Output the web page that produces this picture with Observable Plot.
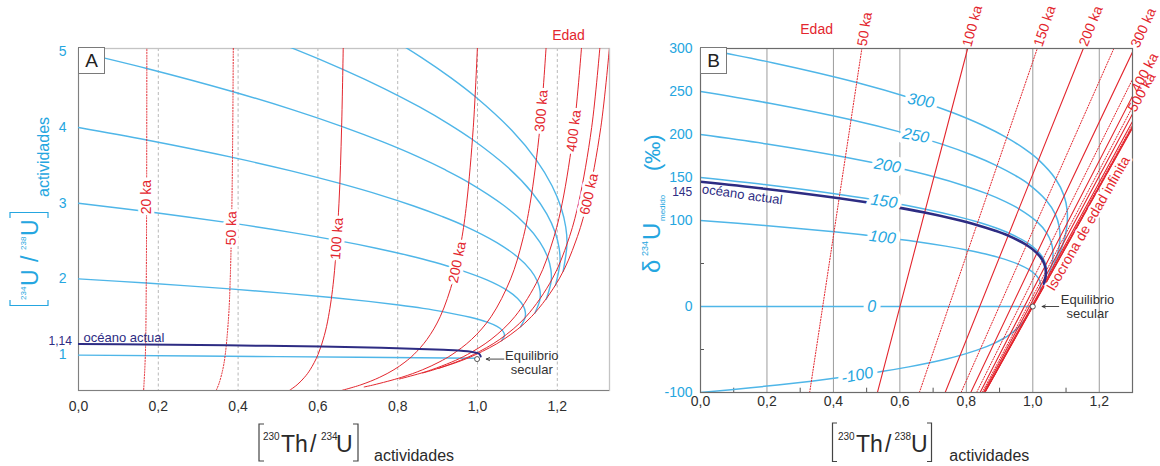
<!DOCTYPE html>
<html><head><meta charset="utf-8">
<script src="https://cdn.jsdelivr.net/npm/d3@7"></script>
<script src="https://cdn.jsdelivr.net/npm/@observablehq/plot@0.6"></script>
<style>
html,body{margin:0;padding:0;background:#fff;}
#root{position:relative;width:1160px;height:466px;overflow:hidden;font-family:"Liberation Sans",Arial,sans-serif;}
#panelA{position:absolute;left:0;top:0;width:640px;height:466px;}
#panelB{position:absolute;left:640px;top:0;width:520px;height:466px;}
#panelA svg,#panelB svg{background:transparent;max-width:none;}
.box{position:absolute;width:25px;height:25px;border:1px solid #7a7a7a;background:#fff;font-size:19px;line-height:25px;text-align:center;color:#222;}
#overlay{position:absolute;left:0;top:0;pointer-events:none;}
</style></head>
<body><div id="root">
<div id="panelA"></div><div id="panelB"></div>
<div class="box" style="left:78px;top:47px">A</div>
<div class="box" style="left:700px;top:47px">B</div>
<svg id="overlay" width="1160" height="466" font-family="Liberation Sans, Arial, sans-serif">
  <!-- Panel A y title -->
  <g fill="none" stroke="#25a6e0" stroke-width="1.2">
    <path d="M10,300 V305.5 H48 V300"/>
    <path d="M10,218 V212.5 H48 V218"/>
  </g>
  <g transform="translate(38.3,0) rotate(-90)" fill="#25a6e0">
    <text font-size="23"><tspan x="-300" y="-12" font-size="8">234</tspan><tspan x="-286" y="0">U</tspan><tspan x="-262" y="0">/</tspan><tspan x="-250" y="-12" font-size="8">238</tspan><tspan x="-236" y="0">U</tspan></text>
    <text x="-197" y="10.5" font-size="16">actividades</text>
  </g>
  <!-- Panel B y title -->
  <g transform="translate(660,0) rotate(-90)" fill="#25a6e0">
    <text font-size="24"><tspan x="-273" y="0">δ</tspan><tspan x="-256" y="-12" font-size="9">234</tspan><tspan x="-240" y="0">U</tspan><tspan x="-221" y="5" font-size="8">medido</tspan><tspan x="-171" y="0" font-size="22">(‰)</tspan></text>
  </g>
  <!-- x titles -->
  <g fill="none" stroke="#444" stroke-width="1.2">
    <path d="M264,424 H259 V461 H264"/>
    <path d="M353,424 H358 V461 H353"/>
    <path d="M837,423 H832.5 V461.5 H837"/>
    <path d="M927,423 H931.5 V461.5 H927"/>
  </g>
  <g fill="#2a2a2a">
    <text font-size="23"><tspan x="263" y="440" font-size="10">230</tspan><tspan x="281" y="452">Th</tspan><tspan x="310" y="452">/</tspan><tspan x="321" y="440" font-size="10">234</tspan><tspan x="336" y="452">U</tspan></text>
    <text x="374" y="460.5" font-size="16">actividades</text>
    <text font-size="23"><tspan x="838" y="440" font-size="10">230</tspan><tspan x="856" y="452">Th</tspan><tspan x="885" y="452">/</tspan><tspan x="894.5" y="440" font-size="10">238</tspan><tspan x="911" y="452">U</tspan></text>
    <text x="949.3" y="460.5" font-size="16">actividades</text>
  </g>
</svg>
</div>
<script>
// ---------------- Panel A data: [230Th/234U, 234U/238U] ----------------
const xTicks = [0, 0.2, 0.4, 0.6, 0.8, 1.0, 1.2];
const yTicksA = [1, 2, 3, 4, 5];
const gridA = [0.2, 0.4, 0.6, 0.8, 1.0, 1.2];

// evolution curves for initial 234U/238U (blue)
const curveA7 = [[0,7],[0.1716,6.670],[0.3889,6.209],[0.5388,5.854],[0.6648,5.523],[0.7705,5.214],[0.8590,4.927],[0.9327,4.659],[0.9940,4.409],[1.0863,3.960],[1.1477,3.570],[1.1867,3.231],[1.2098,2.937],[1.2212,2.682],[1.2243,2.460],[1.2147,2.101]];
const curveA6 = [[0,6],[0.1714,5.725],[0.3882,5.341],[0.5374,5.045],[0.6625,4.769],[0.7672,4.512],[0.8546,4.272],[0.9272,4.049],[0.9873,3.841],[1.0773,3.467],[1.1365,3.142],[1.1735,2.859],[1.1948,2.614],[1.2047,2.402],[1.2067,2.217],[1.1956,1.917]];
const curveA5 = [[0,5],[0.1713,4.780],[0.3873,4.473],[0.5355,4.236],[0.6594,4.015],[0.7628,3.809],[0.8487,3.618],[0.9198,3.439],[0.9783,3.273],[1.0653,2.973],[1.1217,2.713],[1.1563,2.487],[1.1755,2.291],[1.1839,2.121],[1.1847,1.974],[1.1726,1.734]];
const curveA4 = [[0,4],[0.1710,3.835],[0.3859,3.605],[0.5327,3.427],[0.6549,3.261],[0.7563,3.107],[0.8401,2.963],[0.9091,2.829],[0.9656,2.705],[1.0485,2.480],[1.1014,2.285],[1.1331,2.116],[1.1500,1.969],[1.1567,1.841],[1.1565,1.730],[1.1441,1.550]];
const curveA3 = [[0,3],[0.1706,2.890],[0.3837,2.736],[0.5282,2.618],[0.6476,2.508],[0.7460,2.405],[0.8267,2.309],[0.8926,2.220],[0.9460,2.136],[1.0234,1.987],[1.0717,1.857],[1.0999,1.744],[1.1145,1.646],[1.1198,1.561],[1.1192,1.487],[1.1080,1.367]];
const curveA2 = [[0,2],[0.1698,1.945],[0.3795,1.868],[0.5197,1.809],[0.6341,1.754],[0.7273,1.702],[0.8027,1.654],[0.8635,1.610],[0.9123,1.568],[0.9818,1.493],[1.0243,1.428],[1.0488,1.372],[1.0615,1.323],[1.0667,1.280],[1.0671,1.243],[1.0606,1.183]];
const curveA1 = [[0,0.993],[0.5,0.972],[1.0,0.951]];
const oceanA = [[0,1.14],[0.168,1.132],[0.370,1.122],[0.608,1.106],[0.759,1.090],[0.855,1.075],[0.915,1.062],[0.953,1.052],[0.990,1.030],[1.004,1.010],[1.008,0.975]];

// isochrons (red)
const isoA20 = [[0.1629,0.5],[0.1676,1],[0.1699,2],[0.1707,3],[0.1713,5.1]];
const isoA50 = [[0.3426,0.5],[0.3510,0.6],[0.3615,0.8],[0.3678,1],[0.3762,1.5],[0.3803,2],[0.3845,3],[0.3866,4],[0.3880,5.1]];
const isoA100 = [[0.5215,0.5],[0.5478,0.6],[0.5665,0.7],[0.5806,0.8],[0.6003,1],[0.6160,1.25],[0.6265,1.5],[0.6397,2],[0.6528,3],[0.6594,4],[0.6636,5.1]];
const isoA200 = [[0.6414,0.5],[0.7077,0.6],[0.7550,0.7],[0.7906,0.8],[0.8182,0.9],[0.8403,1],[0.8734,1.2],[0.9065,1.5],[0.9397,2],[0.9595,2.5],[0.9728,3],[0.9894,4],[1.0001,5.1]];
const isoA300 = [[0.7160,0.5717],[0.7403,0.6],[0.8102,0.7],[0.8627,0.8],[0.9035,0.9],[0.9362,1],[0.9851,1.2],[1.0341,1.5],[1.0831,2],[1.1124,2.5],[1.1320,3],[1.1565,4],[1.1724,5.1]];
const isoA400 = [[0.8044,0.6771],[0.8556,0.75],[0.8853,0.8],[0.9348,0.9],[0.9745,1],[1.0339,1.2],[1.0934,1.5],[1.1528,2],[1.1885,2.5],[1.2123,3],[1.2420,4],[1.2613,5.1]];
const isoA500 = [[0.8627,0.7566],[0.8910,0.8],[0.9459,0.9],[0.9898,1],[1.0557,1.2],[1.1215,1.5],[1.1874,2],[1.2269,2.5],[1.2532,3],[1.2861,4],[1.3074,5.1]];
const isoA600 = [[0.9021,0.8165],[0.9495,0.9],[0.9959,1],[1.0655,1.2],[1.1351,1.5],[1.2047,2],[1.2464,2.5],[1.2742,3],[1.3090,4],[1.3315,5.1]];

const isoLabelsA = [
  {t:"20 ka", x:0.1705, y:3.08, r:-90},
  {t:"50 ka", x:0.3835, y:2.67, r:-88},
  {t:"100 ka", x:0.6479, y:2.53, r:-86},
  {t:"200 ka", x:0.9495, y:2.22, r:-78},
  {t:"300 ka", x:1.1603, y:4.22, r:-85},
  {t:"400 ka", x:1.2414, y:3.957, r:-83},
  {t:"600 ka", x:1.2796, y:3.12, r:-77}
];
const edadA = [{t:"Edad", x:1.228, y:5.216}];
const oceanLabelA = [{t:"océano actual", x:0.0125, y:1.224}];
const oceanTickA = [{t:"1,14", x:-0.0165, y:1.18}];
const equilA = [{t:"Equilibrio", x:1.136, y:0.978},{t:"secular", x:1.136, y:0.793}];
const equilPointA = [[0.999, 0.94]];
const equilArrowA = [{x1:1.066, y1:0.94, x2:1.022, y2:0.94}];

// ---------------- Panel B data: [230Th/238U, delta234U measured] ----------------
const yTicksB = [-100, 0, 100, 150, 200, 250, 300];
const gridB = [0.2, 0.4, 0.6, 0.8, 1.0, 1.2];
const minorXB = [0.1, 0.3, 0.5, 0.7, 0.9, 1.1];
const minorYB = [50, -50];

const curveB300 = [[0,300],[0.2164,283.5],[0.4701,260.5],[0.6302,242.7],[0.7539,226.1],[0.8490,210.7],[0.9216,196.3],[0.9764,182.9],[1.0174,170.5],[1.0691,148.0],[1.0942,128.5],[1.1034,111.6],[1.1034,96.9],[1.0984,84.1],[1.0909,73.0],[1.0737,55.0]];
const curveB250 = [[0,250],[0.2083,236.3],[0.4531,217.1],[0.6080,202.2],[0.7283,188.5],[0.8212,175.6],[0.8925,163.6],[0.9468,152.4],[0.9879,142.1],[1.0408,123.3],[1.0679,107.1],[1.0794,93.0],[1.0819,80.7],[1.0793,70.1],[1.0741,60.8],[1.0608,45.9]];
const curveB200 = [[0,200],[0.2001,189.0],[0.4360,173.6],[0.5859,161.8],[0.7027,150.8],[0.7934,140.5],[0.8635,130.9],[0.9173,122.0],[0.9583,113.6],[1.0124,98.7],[1.0415,85.7],[1.0555,74.4],[1.0604,64.6],[1.0602,56.1],[1.0572,48.7],[1.0478,36.7]];
const curveB150 = [[0,150],[0.1920,141.8],[0.4189,130.2],[0.5637,121.4],[0.6771,113.1],[0.7656,105.4],[0.8344,98.2],[0.8877,91.5],[0.9288,85.2],[0.9841,74.0],[1.0152,64.3],[1.0315,55.8],[1.0390,48.4],[1.0411,42.1],[1.0404,36.5],[1.0348,27.5]];
const oceanB = [[0,145],[0.1912,137.0],[0.4172,125.9],[0.5615,117.3],[0.6745,109.3],[0.7628,101.8],[0.8315,94.9],[0.8848,88.4],[0.9259,82.4],[0.9812,71.5],[1.0125,62.1],[1.0291,53.9],[1.0368,46.8],[1.0392,40.6],[1.0387,35.3],[1.0335,26.6]];
const curveB100 = [[0,100],[0.1839,94.5],[0.4019,86.8],[0.5416,80.9],[0.6515,75.4],[0.7378,70.2],[0.8054,65.4],[0.8582,61.0],[0.8993,56.8],[0.9557,49.3],[0.9888,42.8],[1.0075,37.2],[1.0175,32.3],[1.0221,28.0],[1.0235,24.3],[1.0219,18.3]];
const curveB0 = [[0,0],[1.0,0]];
const curveBm100 = [[0,-100],[0.1513,-94.5],[0.3337,-86.8],[0.4530,-80.9],[0.5491,-75.4],[0.6266,-70.2],[0.6893,-65.4],[0.7400,-61.0],[0.7812,-56.8],[0.8423,-49.3],[0.8835,-42.8],[0.9117,-37.2],[0.9315,-32.3],[0.9457,-28.0],[0.9561,-24.3],[0.9700,-18.3],[0.9786,-13.8],[0.9844,-10.4]];

// straight isochrons: x at delta = -100 and at delta = 300
const isoAgesB  = ["50","100","150","200","250","300","350","400","450","500","600","700","800","1000","inf"];
const isoXlowB  = [0.3285,0.5324,0.6586,0.7363,0.7841,0.8132,0.8308,0.8414,0.8476,0.8513,0.8546,0.8555,0.8557,0.8556,0.8555];
const isoXhighB = [0.4856,0.8040,1.0135,1.1520,1.2439,1.3051,1.3462,1.3738,1.3926,1.4053,1.4199,1.4269,1.4303,1.4328,1.4337];
const isoDottedB = [true,false,true,false,true,false,true,false,true,false,false,true,false,true,false];

const isoLabelsB = [
  {t:"50 ka", x:0.4945, y:322.5, r:-81},
  {t:"100 ka", x:0.8184, y:326, r:-75},
  {t:"150 ka", x:1.036, y:326, r:-71},
  {t:"200 ka", x:1.1747, y:326, r:-68},
  {t:"300 ka", x:1.3330, y:324, r:-65},
  {t:"400 ka", x:1.3370, y:272, r:-62},
  {t:"500 ka", x:1.3280, y:249, r:-61}
];
const curveLabelsB = [
  {t:"300", x:0.6627, y:239.3, r:10},
  {t:"250", x:0.6476, y:198.7, r:10},
  {t:"200", x:0.5623, y:163.8, r:9},
  {t:"150", x:0.5521, y:122.4, r:8},
  {t:"100", x:0.5473, y:80.6, r:7},
  {t:"0", x:0.515, y:0, r:0},
  {t:"-100", x:0.472, y:-80, r:-11}
];
const edadB = [{t:"Edad", x:0.3494, y:322.5}];
const infLabelB = [{t:"Isocrona de edad infinita", x:1.1672, y:96.5, r:-60}];
const oceanLabelB = [{t:"océano actual", x:0.1256, y:130, r:8}];
const oceanTickB = [{t:"145", x:-0.025, y:133.5}];
const equilB = [{t:"Equilibrio", x:1.1648, y:7.7},{t:"secular", x:1.1648, y:-8.6}];
const equilPointB = [[1.0, 0]];
const equilArrowB = [{x1:1.078, y1:0, x2:1.028, y2:0}];

// ---------------- styling ----------------
const BLUE = "#4fb6e8", BLUE_T = "#25a6e0", RED = "#e3262e", NAVY = "#2d2c83", INK = "#2e2e2e";
const FONT = "Liberation Sans, Arial, sans-serif";
const fmt = d => d.toFixed(1).replace(".", ",");
const line = (data, o) => Plot.line(data, {x: d => d[0], y: d => d[1], curve: "catmull-rom", clip: true, ...o});

const xDomA = [0, 1.3308], yDomA = [0.525, 5.044];
const plotA = Plot.plot({
  width: 640, height: 466,
  marginLeft: 78, marginRight: 31, marginTop: 48, marginBottom: 76,
  style: {fontFamily: FONT, fontSize: "14px", color: INK, background: "transparent"},
  x: {domain: xDomA, ticks: xTicks, tickFormat: fmt, tickSize: 0, tickPadding: 11, label: null},
  y: {domain: yDomA, ticks: yTicksA, tickFormat: d => String(d), tickSize: 0, tickPadding: 12, label: null},
  marks: [
    Plot.ruleX(gridA, {stroke: "#b8b8b8", strokeDasharray: "3,2.5"}),
    Plot.frame({stroke: "#c4c4c4", strokeWidth: 1.3}),
    Plot.ruleX([xDomA[0]], {stroke: "#808080"}),
    Plot.ruleY([yDomA[0]], {stroke: "#808080"}),
    ...[curveA7, curveA6, curveA5, curveA4, curveA3, curveA2, curveA1].map(c => line(c, {stroke: BLUE, strokeWidth: 1.4})),
    ...[isoA20, isoA50].map(c => line(c, {stroke: RED, strokeWidth: 1, strokeDasharray: "1.2,1.6"})),
    ...[isoA100, isoA200, isoA300, isoA400, isoA500, isoA600].map(c => line(c, {stroke: RED, strokeWidth: 1})),
    line(oceanA, {stroke: NAVY, strokeWidth: 2}),
    Plot.text(isoLabelsA, {x: "x", y: "y", text: "t", rotate: "r", fill: RED, stroke: "white", strokeWidth: 6, fontSize: 14, fontFamily: FONT}),
    Plot.text(edadA, {x: "x", y: "y", text: "t", fill: RED, fontSize: 14, fontFamily: FONT}),
    Plot.text(oceanLabelA, {x: "x", y: "y", text: "t", fill: NAVY, fontSize: 13, textAnchor: "start", fontFamily: FONT}),
    Plot.text(oceanTickA, {x: "x", y: "y", text: "t", fill: NAVY, fontSize: 12, textAnchor: "end", fontFamily: FONT}),
    Plot.arrow(equilArrowA, {x1: "x1", y1: "y1", x2: "x2", y2: "y2", stroke: "#333", strokeWidth: 0.9, headLength: 6, headAngle: 50}),
    Plot.dot(equilPointA, {x: d => d[0], y: d => d[1], r: 2.5, stroke: "#444", fill: "white", strokeWidth: 0.9}),
    Plot.text(equilA, {x: "x", y: "y", text: "t", fill: "#333", fontSize: 13, fontFamily: FONT})
  ]
});

const isoSegB = isoAgesB.flatMap((a, i) => [
  {age: a, x: isoXlowB[i], y: -100, dotted: isoDottedB[i]},
  {age: a, x: isoXhighB[i], y: 300, dotted: isoDottedB[i]}
]);

const xDomB = [0, 1.3], yDomB = [-100, 300];
const plotB = Plot.plot({
  width: 520, height: 466,
  marginLeft: 60, marginRight: 28, marginTop: 48, marginBottom: 74,
  style: {fontFamily: FONT, fontSize: "14px", color: INK, background: "transparent"},
  x: {domain: xDomB, ticks: xTicks, tickFormat: fmt, tickSize: 0, tickPadding: 4, label: null},
  y: {domain: yDomB, ticks: yTicksB, tickFormat: d => String(d), tickSize: 0, tickPadding: 8, label: null},
  marks: [
    Plot.ruleX(gridB, {stroke: "#9c9c9c"}),
    Plot.ruleX(minorXB, {y1: -100, y2: -95, stroke: "#555"}),
    Plot.ruleY(minorYB, {x1: 0, x2: 0.012, stroke: "#555"}),
    ...[curveB300, curveB250, curveB200, curveB150, curveB100, curveB0, curveBm100].map(c => line(c, {stroke: BLUE, strokeWidth: 1.5})),
    Plot.line(isoSegB.filter(d => d.dotted), {x: "x", y: "y", z: "age", stroke: RED, strokeWidth: 1, strokeDasharray: "1.2,1.6", clip: true}),
    Plot.line(isoSegB.filter(d => !d.dotted), {x: "x", y: "y", z: "age", stroke: RED, strokeWidth: 1.1, clip: true}),
    line(oceanB, {stroke: NAVY, strokeWidth: 2.6}),
    Plot.frame({stroke: "#6b6b6b", strokeWidth: 1.2}),
    Plot.text(isoLabelsB, {x: "x", y: "y", text: "t", rotate: "r", fill: RED, fontSize: 14, fontFamily: FONT}),
    Plot.text(edadB, {x: "x", y: "y", text: "t", fill: RED, fontSize: 14, fontFamily: FONT}),
    Plot.text(infLabelB, {x: "x", y: "y", text: "t", rotate: "r", fill: RED, stroke: "white", strokeWidth: 4, fontSize: 14, fontFamily: FONT}),
    Plot.text(curveLabelsB, {x: "x", y: "y", text: "t", rotate: "r", fill: BLUE_T, stroke: "white", strokeWidth: 9, fontSize: 16, fontStyle: "italic", fontFamily: FONT}),
    Plot.text(oceanLabelB, {x: "x", y: "y", text: "t", rotate: "r", fill: NAVY, fontSize: 13, fontFamily: FONT}),
    Plot.text(oceanTickB, {x: "x", y: "y", text: "t", fill: NAVY, fontSize: 12, textAnchor: "end", fontFamily: FONT}),
    Plot.arrow(equilArrowB, {x1: "x1", y1: "y1", x2: "x2", y2: "y2", stroke: "#333", strokeWidth: 0.9, headLength: 6, headAngle: 50}),
    Plot.dot(equilPointB, {x: d => d[0], y: d => d[1], r: 2.5, stroke: "#444", fill: "white", strokeWidth: 0.9}),
    Plot.text(equilB, {x: "x", y: "y", text: "t", fill: "#333", fontSize: 13, fontFamily: FONT})
  ]
});

for (const p of [plotA, plotB]) {
  p.querySelectorAll('[aria-label^="y-axis"]').forEach(g => { g.style.color = BLUE_T; g.style.fontSize = "14px"; });
}
document.getElementById("panelA").appendChild(plotA);
document.getElementById("panelB").appendChild(plotB);
</script>
</body></html>
